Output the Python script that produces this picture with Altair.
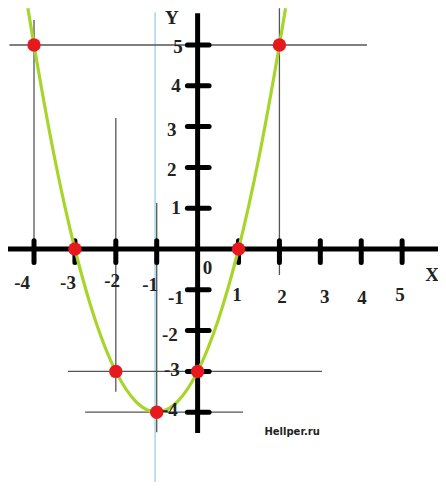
import altair as alt
import pandas as pd

# Points marked on the parabola y = x^2 + 2x - 3
pt_x = [-4, -3, -2, -1, 0, 1, 2]
pt_y = [5, 0, -3, -4, -3, 0, 5]

# Green curve
curve_x = [-4.15, -4, -3.5, -3, -2.5, -2, -1.5, -1, -0.5, 0, 0.5, 1, 1.5, 2, 2.15]
curve_y = [5.9, 5, 2.25, 0, -1.75, -3, -3.75, -4, -3.75, -3, -1.75, 0, 2.25, 5, 5.9]

# Thin helper lines (x1, x2, y1, y2)
guide_x1 = [-4.6, -3.17, -2.75, -4, -2, -1, 2]
guide_x2 = [4.14, 3.04, 1.11, -4, -2, -1, 2]
guide_y1 = [5, -3, -4, 5.61, 3.21, 1.13, 5.9]
guide_y2 = [5, -3, -4, 0, -3.5, -4.49, -0.64]

# Axis tick positions
xticks = [-4, -3, -2, -1, 1, 2, 3, 4, 5]
yticks = [5, 4, 3, 2, 1, -1, -2, -3, -4]

# Tick labels
xlab_text = ["-4", "-3", "-2", "-1", "0", "1", "2", "3", "4", "5", "X"]
xlab_x = [-4.29, -3.17, -2.09, -1.16, 0.24, 0.96, 2.06, 3.11, 4.02, 4.95, 5.73]
xlab_y = [-0.83, -0.83, -0.79, -0.88, -0.47, -1.13, -1.18, -1.18, -1.2, -1.13, -0.64]
ylab_text = ["5", "4", "3", "2", "1", "-1", "-2", "-3", "-4", "Y"]
ylab_x = [-0.48, -0.53, -0.63, -0.63, -0.53, -0.53, -0.68, -0.63, -0.68, -0.63]
ylab_y = [4.95, 4.0, 2.92, 1.94, 1.0, -1.2, -2.11, -2.96, -3.95, 5.66]

XMIN, XMAX = -4.636, 5.877
YMIN, YMAX = -5.711, 5.907

xs = alt.Scale(domain=[XMIN, XMAX], nice=False, zero=False)
ys = alt.Scale(domain=[YMIN, YMAX], nice=False, zero=False)

def X(f, **kw):
    return alt.X(f, type="quantitative", scale=xs, axis=None, **kw)

def Y(f, **kw):
    return alt.Y(f, type="quantitative", scale=ys, axis=None, **kw)

# light blue vertical line
blue_df = pd.DataFrame({"x": [-1.04], "y1": [5.8], "y2": [YMIN]})
blue = alt.Chart(blue_df).mark_rule(color="#a9d6e8", strokeWidth=1.5).encode(
    x=X("x"), y=Y("y1"), y2="y2")

guides_df = pd.DataFrame({"x1": guide_x1, "x2": guide_x2, "y1": guide_y1, "y2": guide_y2})
guides = alt.Chart(guides_df).mark_rule(color="#555555", strokeWidth=1.3).encode(
    x=X("x1"), x2="x2", y=Y("y1"), y2="y2")

axes_df = pd.DataFrame({"x1": [XMIN, 0], "x2": [XMAX, 0], "y1": [0, 5.78], "y2": [0, -4.51]})
axes = alt.Chart(axes_df).mark_rule(color="black", strokeWidth=5).encode(
    x=X("x1"), x2="x2", y=Y("y1"), y2="y2")

xt_df = pd.DataFrame({"x": xticks, "y1": [0.2] * len(xticks), "y2": [-0.33] * len(xticks)})
xt = alt.Chart(xt_df).mark_rule(color="black", strokeWidth=5, strokeCap="round").encode(
    x=X("x"), y=Y("y1"), y2="y2")

yt_df = pd.DataFrame({"y": yticks, "x1": [-0.25] * len(yticks), "x2": [0.28] * len(yticks)})
yt = alt.Chart(yt_df).mark_rule(color="black", strokeWidth=5, strokeCap="round").encode(
    y=Y("y"), x=X("x1"), x2="x2")

curve_df = pd.DataFrame({"x": curve_x, "y": curve_y, "o": list(range(len(curve_x)))})
curve = alt.Chart(curve_df).mark_line(color="#a8d52c", strokeWidth=3.2, interpolate="monotone").encode(
    x=X("x"), y=Y("y"), order="o:Q")

pts_df = pd.DataFrame({"x": pt_x, "y": pt_y})
pts = alt.Chart(pts_df).mark_circle(color="#e8191e", opacity=1, size=180).encode(
    x=X("x"), y=Y("y"))

lab_df = pd.DataFrame({"t": xlab_text + ylab_text, "x": xlab_x + ylab_x, "y": xlab_y + ylab_y})
labels = alt.Chart(lab_df).mark_text(font="Liberation Serif", fontWeight="bold", fontSize=19,
                                     color="#222222", align="center", baseline="middle").encode(
    x=X("x"), y=Y("y"), text="t:N")

wm_df = pd.DataFrame({"t": ["Hellper.ru"], "x": [2.31], "y": [-4.49]})
wm = alt.Chart(wm_df).mark_text(font="DejaVu Sans", fontWeight="bold", fontSize=10,
                                color="#222222", align="center", baseline="middle").encode(
    x=X("x"), y=Y("y"), text="t:N")

chart = alt.layer(blue, guides, axes, xt, yt, curve, pts, labels, wm).properties(
    width=430, height=474, padding=0, autosize=alt.AutoSizeParams(type="none")
).configure_view(stroke=None)

chart.save("out.html", embed_options={"renderer": "svg", "actions": False})
